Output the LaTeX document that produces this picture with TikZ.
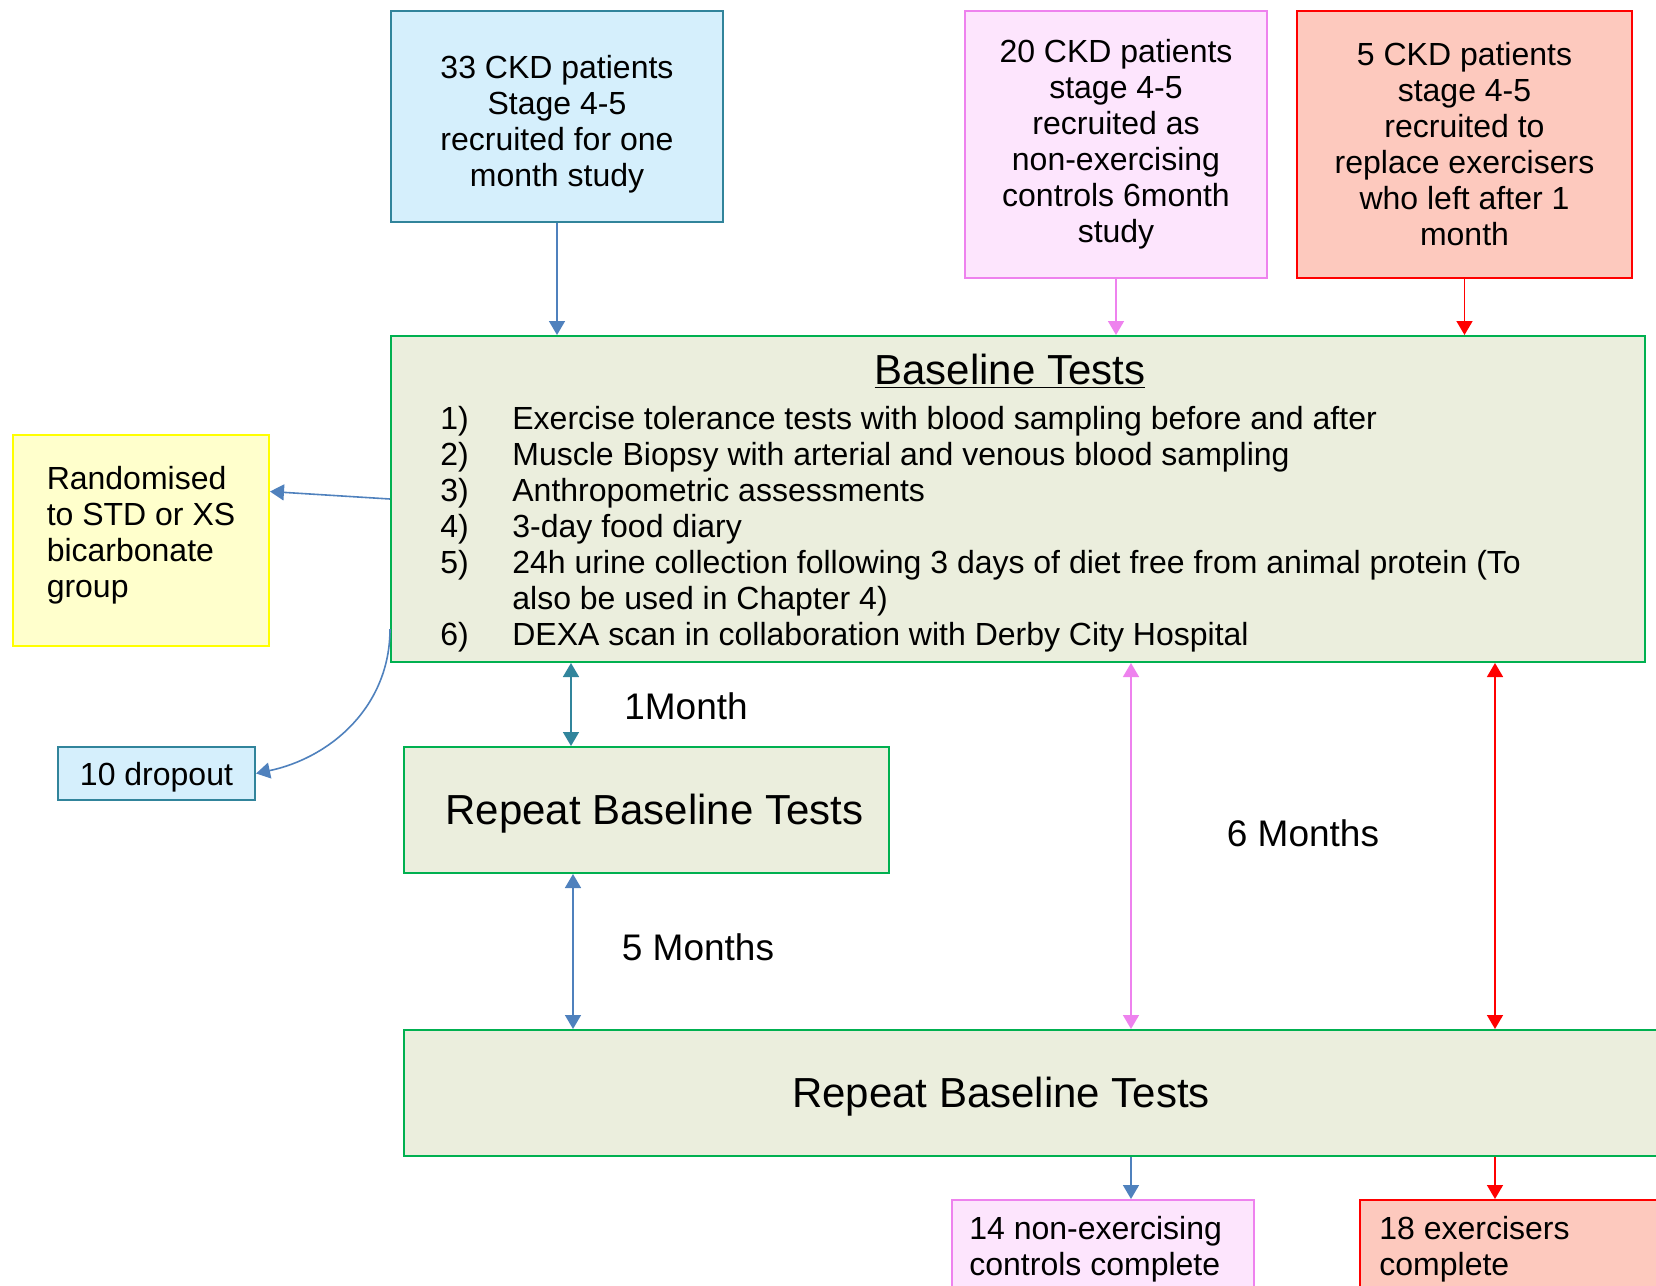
\documentclass[tikz,border=0pt]{standalone}
\usepackage{fontspec}
\setmainfont{Liberation Sans}
\usetikzlibrary{arrows.meta,calc}
\definecolor{lblue}{HTML}{D5EFFC}
\definecolor{tealb}{HTML}{31849B}
\definecolor{lpink}{HTML}{FDE5FD}
\definecolor{violetb}{HTML}{EE82EE}
\definecolor{lred}{HTML}{FDC9BE}
\definecolor{redb}{HTML}{FF0000}
\definecolor{lgreen}{HTML}{EBEEDD}
\definecolor{greenb}{HTML}{00B050}
\definecolor{lyellow}{HTML}{FFFFCC}
\definecolor{yellowb}{HTML}{FFFF00}
\definecolor{arrblue}{HTML}{4F81BD}
\definecolor{arrteal}{HTML}{31859C}
\tikzset{
  box/.style={rectangle, draw, line width=1pt, inner sep=0pt, font=\fontsize{16}{18}\selectfont, align=center},
  bluebox/.style={box, fill=lblue, draw=tealb},
  pinkbox/.style={box, fill=lpink, draw=violetb},
  redbox/.style={box, fill=lred, draw=redb},
  greenbox/.style={box, fill=lgreen, draw=greenb},
  yellowbox/.style={box, fill=lyellow, draw=yellowb},
  tip/.style={-{Triangle[length=7pt,width=8pt]}},
  dtip/.style={{Triangle[length=7pt,width=8pt]}-{Triangle[length=7pt,width=8pt]}},
  conn/.style={line width=0.8pt},
  txt/.style={inner sep=0pt},
}
\begin{document}
\begin{tikzpicture}[x=0.5pt,y=-0.5pt]
\useasboundingbox (0,0) rectangle (1656,1286);
\clip (0,0) rectangle (1656,1286);
% top boxes
\node[bluebox, minimum width=166pt, minimum height=105.5pt] (ckd33) at (557,116.5)
  {\raisebox{-4.2pt}[\height][\depth]{\begin{tabular}{@{}c@{}}33 CKD patients\\Stage 4-5\\recruited for one\\month study\end{tabular}}};
\node[pinkbox, minimum width=151pt, minimum height=133.5pt] (pinktop) at (1116,144.5)
  {20 CKD patients\\stage 4-5\\recruited as\\non-exercising\\controls 6month\\study};
\node[redbox, minimum width=167.5pt, minimum height=133.5pt] (redtop) at (1464.5,144.5)
  {5 CKD patients\\stage 4-5\\recruited to\\replace exercisers\\who left after 1\\month};
% baseline box
\node[greenbox, minimum width=627pt, minimum height=163pt] (base) at (1018,499) {};
\node[txt, font=\fontsize{21}{24}\selectfont] (basetitle) at (1010,371) {\underline{Baseline Tests}};
\node[txt, anchor=north west, font=\fontsize{16}{18}\selectfont] (baselist) at (440,404)
{\begin{tabular}{@{}p{36pt}@{}l@{}}
1) & Exercise tolerance tests with blood sampling before and after\\
2) & Muscle Biopsy with arterial and venous blood sampling\\
3) & Anthropometric assessments\\
4) & 3-day food diary\\
5) & 24h urine collection following 3 days of diet free from animal protein (To\\
   & also be used in Chapter 4)\\
6) & DEXA scan in collaboration with Derby City Hospital
\end{tabular}};
% side boxes
\node[yellowbox, minimum width=128pt, minimum height=105.5pt, align=left] (yellow) at (141,540.5)
  {\raisebox{2.2pt}[\height][\depth]{\begin{tabular}{@{}l@{}}Randomised\\to STD or XS\\bicarbonate\\group\end{tabular}}};
\node[bluebox, minimum width=98.5pt, minimum height=26.5pt] (drop) at (156.5,773.5) {\raisebox{-2.1pt}[\height][\depth]{10 dropout}};
% repeat boxes
\node[greenbox, minimum width=242.5pt, minimum height=63pt, font=\fontsize{21}{24}\selectfont] (rep1) at (646.5,810) {\raisebox{-1.6pt}[\height][\depth]{\hspace*{8pt}Repeat Baseline Tests}};
\node[greenbox, minimum width=660pt, minimum height=63pt] (rep2) at (1064,1093) {};
\node[txt, font=\fontsize{21}{24}\selectfont] (rep2text) at (1001,1097) {Repeat Baseline Tests};
% bottom boxes
\node[pinkbox, minimum width=151pt, minimum height=60pt, anchor=north west] (botpink) at (951,1199) {};
\node[txt, anchor=north west, align=left, font=\fontsize{16}{18}\selectfont] (botpinktext) at (969,1216) {14 non-exercising\\controls complete};
\node[redbox, minimum width=170pt, minimum height=60pt, anchor=north west] (botred) at (1359,1199) {};
\node[txt, anchor=north west, align=left, font=\fontsize{16}{18}\selectfont] (botredtext) at (1379,1216) {18 exercisers\\complete};
% labels
\node[txt, font=\fontsize{18.5}{22}\selectfont] (m1) at (686,706) {1Month};
\node[txt, font=\fontsize{18.5}{22}\selectfont] (m5) at (698,947) {5 Months};
\node[txt, font=\fontsize{18.5}{22}\selectfont] (m6) at (1303,833) {6 Months};
% connectors
\draw[conn, tip, draw=arrblue] (ckd33.south) -- (ckd33.south |- base.north);
\draw[conn, tip, draw=violetb] (pinktop.south) -- (pinktop.south |- base.north);
\draw[conn, tip, draw=redb] (redtop.south) -- (redtop.south |- base.north);
\draw[conn, tip, draw=arrblue] (base.west) -- ($(yellow.east)+(0,-49)$);
\draw[conn, tip, draw=arrblue] ($(base.west)+(0,130)$) to[out=-90, in=12] (drop.east);
\draw[conn, dtip, draw=arrteal] (base.south -| 571,0) -- (rep1.north -| 571,0);
\draw[conn, dtip, draw=arrblue] (rep1.south -| 573,0) -- (rep2.north -| 573,0);
\draw[conn, dtip, draw=violetb] (base.south -| 1131,0) -- (rep2.north -| 1131,0);
\draw[conn, dtip, draw=redb] (base.south -| 1495,0) -- (rep2.north -| 1495,0);
\draw[conn, tip, draw=arrblue] (rep2.south -| 1131,0) -- (botpink.north -| 1131,0);
\draw[conn, tip, draw=redb] (rep2.south -| 1495,0) -- (botred.north -| 1495,0);
\end{tikzpicture}
\end{document}
